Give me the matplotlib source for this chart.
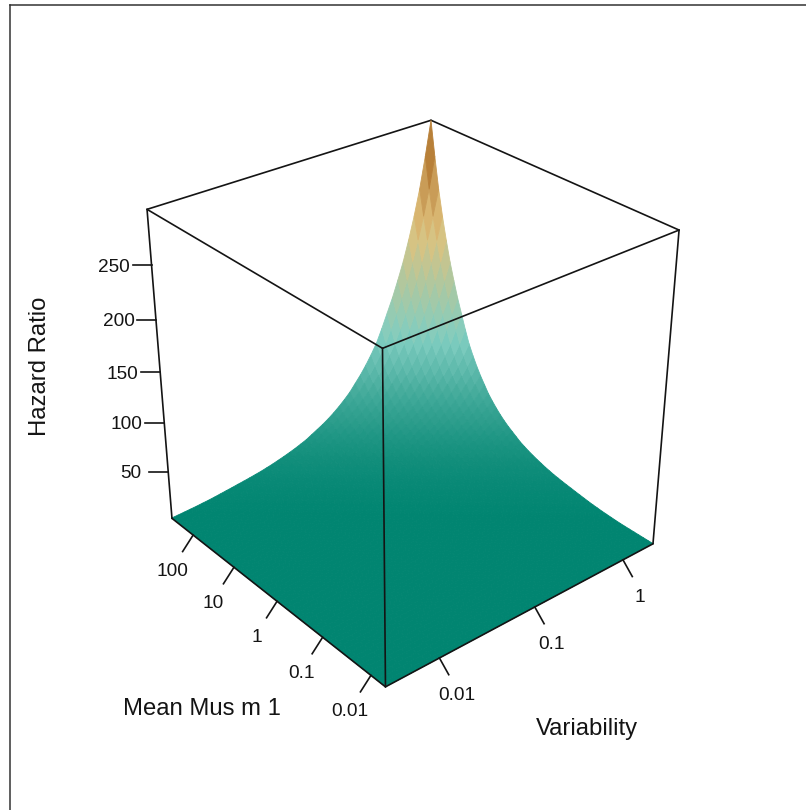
import numpy as np
import matplotlib
matplotlib.use('Agg')
import matplotlib.pyplot as plt
from matplotlib.colors import LinearSegmentedColormap
from matplotlib.lines import Line2D
from mpl_toolkits.mplot3d import proj3d

plt.rcParams['font.family'] = ['Liberation Sans', 'DejaVu Sans']

# axis ranges, log10 for the two horizontal axes
var_range = [-2.532, 0.358]
mean_range = [-2.29, 2.54]
hazard_range = [1, 300]

var_ticks = [0.01, 0.1, 1]
var_labels = ['0.01', '0.1', '1']
mean_ticks = [0.01, 0.1, 1, 10, 100]
mean_labels = ['0.01', '0.1', '1', '10', '100']
hazard_ticks = [50, 100, 150, 200, 250]

# hazard ratio, by number of grid steps away from the peak
hazard_by_step = [
    300, 267, 237, 212, 190, 170, 153, 137, 123, 109,
    96, 86, 77, 69, 62, 55, 49.5, 44.5, 40, 36,
    32.5, 29.5, 26.5, 23.5, 21.3, 19.2, 17.4, 15.7, 14.2, 12.7,
    11.5, 10.3, 9.4, 8.5, 7.7, 7, 6.2, 5.5, 4.8, 4.1,
    3.5, 3.1, 2.6, 2.3, 2, 1.7, 1.5, 1.4, 1.35, 1.3,
    1.27, 1.24, 1.22, 1.2, 1.18, 1.16, 1.15, 1.14, 1.13, 1.12,
    1.11, 1.1, 1.1, 1.09, 1.09, 1.08, 1.08, 1.07, 1.07, 1.06,
    1.06, 1.05, 1.05, 1.05, 1.04, 1.04, 1.04, 1.03, 1.03, 1.03,
    1.03, 1.02, 1.02, 1.02, 1.02, 1.02, 1.01, 1.01, 1.01, 1.01,
    1.01, 1.01, 1.01, 1, 1, 1, 1, 1, 1, 1,
]
n_var, n_mean = 47, 54

surface_colors = ['#018571', '#80cdc1', '#dfc27d', '#a6611a']
line_col = '#141414'
line_w = 1.2
tick_size = 13.7
title_size = 17.2

W, H = 806, 810
fig = plt.figure(figsize=(W/100, H/100), dpi=100)
ax = fig.add_axes([-0.93/W, 16.09/H, 800/W, 800/H], projection='3d', computed_zorder=False)
ax.set_axis_off()
ax.set_xlim(*var_range, view_margin=0)
ax.set_ylim(*mean_range, view_margin=0)
ax.set_zlim(*hazard_range, view_margin=0)
ax.view_init(elev=30.05, azim=-129.8)
ax.set_box_aspect((0.4347, 0.4359, 0.4354), zoom=np.linalg.norm([0.4347, 0.4359, 0.4354]))
ax.set_proj_type('persp', focal_length=0.4126)

# surface, grid runs from the peak corner outwards
var_grid = np.linspace(var_range[1], var_range[0], n_var)
mean_grid = np.linspace(mean_range[1], mean_range[0], n_mean)
X, Y = np.meshgrid(var_grid, mean_grid, indexing='ij')
steps = np.add.outer(np.arange(n_var), np.arange(n_mean))
Z = np.array(hazard_by_step)[steps]

cell = (Z[:-1, :-1] + Z[1:, :-1] + Z[:-1, 1:] + Z[1:, 1:]) / 4
cmap = LinearSegmentedColormap.from_list('hazard', surface_colors)
face = cmap((cell - hazard_range[0]) / (hazard_range[1] - hazard_range[0]))
ax.plot_surface(X, Y, Z, rstride=1, cstride=1, facecolors=face, shade=False,
                linewidth=0.6, antialiased=True, zorder=2)

# the box
x0, x1 = var_range
y0, y1 = mean_range
z0, z1 = hazard_range

def edge(a, b, zo):
    ax.plot([a[0], b[0]], [a[1], b[1]], [a[2], b[2]], color=line_col, lw=line_w,
            solid_capstyle='round', zorder=zo)

edge((x1, y1, z1), (x0, y1, z1), 1)
edge((x1, y1, z1), (x1, y0, z1), 1)
edge((x0, y1, z0), (x0, y1, z1), 3)
edge((x1, y0, z0), (x1, y0, z1), 3)
edge((x0, y0, z1), (x0, y1, z1), 3)
edge((x0, y0, z1), (x1, y0, z1), 3)
edge((x0, y0, z0), (x0, y0, z1), 3)
edge((x0, y0, z0), (x0, y1, z0), 3)
edge((x0, y0, z0), (x1, y0, z0), 3)

# ticks and labels keep a fixed pixel offset from where the axis value lands on screen
def tick(x, y, z, lab, tick_off, lab_off):
    px, py, _ = proj3d.proj_transform(x, y, z, ax.get_proj())
    px, py = ax.transData.transform((px, py))
    fig.add_artist(Line2D([px, px + tick_off[0]], [py, py - tick_off[1]], color=line_col,
                          lw=line_w, transform=None))
    fig.text((px + lab_off[0])/W, (py - lab_off[1])/H, lab, fontsize=tick_size, color=line_col,
             ha='center', va='center_baseline')

for val, lab in zip(mean_ticks, mean_labels):
    tick(x0, np.log10(val), z0, lab, (-10.5, 16.5), (-20.7, 34))

for val, lab in zip(var_ticks, var_labels):
    tick(np.log10(val), y0, z0, lab, (9.3, 16.7), (17, 36))

for val in hazard_ticks:
    tick(x0, y1, val, str(val), (-19, 0), (-37.5, 0))

# axis titles
fig.text(201.7/W, 1 - 706.7/H, 'Mean Mus m 1', fontsize=title_size, color=line_col,
         ha='center', va='center_baseline')
fig.text(587.3/W, 1 - 729.3/H, 'Variability', fontsize=title_size, color=line_col,
         ha='center', va='center')
fig.text(40/W, 1 - 366.7/H, 'Hazard Ratio', fontsize=title_size, color=line_col,
         ha='center', va='center', rotation=90)

# outer frame
fig.add_artist(Line2D([10.3/W, 10.3/W], [0, 1 - 5.3/H], color='#333333', lw=1.1))
fig.add_artist(Line2D([10.3/W, 1], [1 - 5.3/H, 1 - 5.3/H], color='#333333', lw=1.1))

fig.savefig('out.png', dpi=100)
